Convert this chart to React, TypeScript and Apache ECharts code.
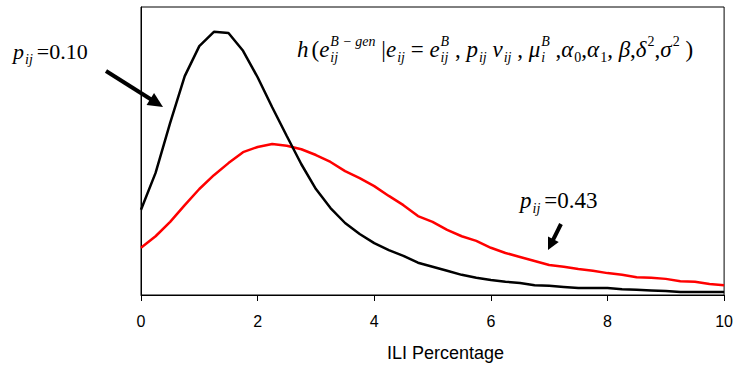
import React, { useEffect, useRef } from "react";
import * as echarts from "echarts";

// ILI percentage grid (x) and the two densities
const iliPct = [
  0, 0.25, 0.5, 0.75, 1, 1.25, 1.5, 1.75, 2, 2.25, 2.5, 2.75, 3, 3.25, 3.5, 3.75,
  4, 4.25, 4.5, 4.75, 5, 5.25, 5.5, 5.75, 6, 6.25, 6.5, 6.75, 7, 7.25, 7.5, 7.75,
  8, 8.25, 8.5, 8.75, 9, 9.25, 9.5, 9.75, 10,
];
const densityP010 = [
  0.148, 0.212, 0.299, 0.380, 0.432, 0.457, 0.455, 0.424, 0.378, 0.326, 0.276, 0.227,
  0.184, 0.151, 0.125, 0.106, 0.090, 0.078, 0.068, 0.056, 0.049, 0.042, 0.035, 0.030,
  0.026, 0.023, 0.021, 0.017, 0.016, 0.014, 0.012, 0.012, 0.012, 0.010, 0.009, 0.008,
  0.007, 0.005, 0.005, 0.005, 0.005,
];
const densityP043 = [
  0.082, 0.102, 0.127, 0.156, 0.184, 0.208, 0.229, 0.248, 0.257, 0.262, 0.259, 0.253,
  0.243, 0.231, 0.215, 0.203, 0.189, 0.172, 0.156, 0.137, 0.127, 0.113, 0.102, 0.094,
  0.082, 0.073, 0.066, 0.059, 0.052, 0.049, 0.045, 0.042, 0.038, 0.035, 0.031, 0.030,
  0.028, 0.024, 0.023, 0.019, 0.017,
];
const xTicks = [0, 2, 4, 6, 8, 10];
const xAxisTitle = "ILI Percentage";

type Tok = { t: string; it?: boolean; sub?: string; subIt?: boolean; sup?: string; supIt?: boolean; gap?: number };

const formulaTokens: Tok[] = [
  { t: "h", it: true },
  { t: "(", gap: 3 },
  { t: "e", it: true, sub: "ij", subIt: true, sup: "B \u2212 gen", supIt: true },
  { t: " |" },
  { t: "e", it: true, sub: "ij", subIt: true },
  { t: " = " },
  { t: "e", it: true, sub: "ij", subIt: true, sup: "B", supIt: true },
  { t: " , " },
  { t: "p", it: true, sub: "ij", subIt: true },
  { t: " " },
  { t: "v", it: true, sub: "ij", subIt: true },
  { t: " , " },
  { t: "\u03bc", it: true, sub: "i", subIt: true, sup: "B", supIt: true },
  { t: " ," },
  { t: "\u03b1", it: true, sub: "0" },
  { t: "," },
  { t: "\u03b1", it: true, sub: "1" },
  { t: ", " },
  { t: "\u03b2", it: true },
  { t: "," },
  { t: "\u03b4", it: true, sup: "2" },
  { t: "," },
  { t: "\u03c3", it: true, sup: "2" },
  { t: " )" },
];
const label010: Tok[] = [{ t: "p", it: true, sub: "ij", subIt: true }, { t: "=0.10", gap: 4 }];
const label043: Tok[] = [{ t: "p", it: true, sub: "ij", subIt: true }, { t: "=0.43", gap: 4 }];

const SERIF = '"Liberation Serif", "Times New Roman", serif';
const SANS = '"Liberation Sans", Arial, sans-serif';

let ctx: CanvasRenderingContext2D | null = null;
function measure(text: string, size: number, italic: boolean) {
  if (!ctx) ctx = document.createElement("canvas").getContext("2d");
  if (!ctx) return text.length * size * 0.5;
  ctx.font = `${italic ? "italic " : ""}${size}px ${SERIF}`;
  return ctx.measureText(text).width;
}

function textEl(text: string, x: number, baseline: number, size: number, italic: boolean) {
  return {
    type: "text",
    x,
    y: baseline - 0.34 * size,
    silent: true,
    style: {
      text,
      fontSize: size,
      fontFamily: SERIF,
      fontStyle: italic ? "italic" : "normal",
      fill: "#000",
      align: "left",
      verticalAlign: "middle",
      textAlign: "left",
      textVerticalAlign: "middle",
    },
  };
}

function layoutMath(tokens: Tok[], x0: number, baseline: number, fs: number, sfs: number) {
  const els: any[] = [];
  let x = x0;
  for (const tok of tokens) {
    x += tok.gap || 0;
    els.push(textEl(tok.t, x, baseline, fs, !!tok.it));
    x += measure(tok.t, fs, !!tok.it);
    if (tok.sub || tok.sup) {
      let w = 0;
      if (tok.sub) {
        els.push(textEl(tok.sub, x + 1, baseline + 0.22 * fs, sfs, !!tok.subIt));
        w = Math.max(w, measure(tok.sub, sfs, !!tok.subIt));
      }
      if (tok.sup) {
        els.push(textEl(tok.sup, x + 1, baseline - 0.45 * fs, sfs, !!tok.supIt));
        w = Math.max(w, measure(tok.sup, sfs, !!tok.supIt));
      }
      x += w + 1;
    }
  }
  return els;
}

function arrow(tail: [number, number], tip: [number, number], width: number, headLen: number, headHalf: number) {
  const dx = tip[0] - tail[0];
  const dy = tip[1] - tail[1];
  const len = Math.hypot(dx, dy);
  const ux = dx / len;
  const uy = dy / len;
  const bx = tip[0] - headLen * ux;
  const by = tip[1] - headLen * uy;
  const px = -uy;
  const py = ux;
  return [
    {
      type: "line",
      silent: true,
      shape: { x1: tail[0], y1: tail[1], x2: bx + ux, y2: by + uy },
      style: { stroke: "#000", lineWidth: width },
    },
    {
      type: "polygon",
      silent: true,
      shape: {
        points: [
          [tip[0], tip[1]],
          [bx + headHalf * px, by + headHalf * py],
          [bx - headHalf * px, by - headHalf * py],
        ],
      },
      style: { fill: "#000" },
    },
  ];
}

export default function App() {
  const ref = useRef<HTMLDivElement>(null);
  useEffect(() => {
    document.body.style.margin = "0";
    if (!ref.current) return;
    const chart = echarts.init(ref.current, undefined, { renderer: "svg" });
    const black = iliPct.map((x, i) => [x, densityP010[i]]);
    const red = iliPct.map((x, i) => [x, densityP043[i]]);
    const graphics = [
      ...layoutMath(formulaTokens, 297, 57, 23, 14),
      ...layoutMath(label010, 13, 59, 22, 14),
      ...layoutMath(label043, 520, 208, 23, 14),
      ...arrow([106, 71], [163, 107], 4, 15, 7),
      ...arrow([561, 224], [548, 250], 4, 12, 6),
    ];
    chart.setOption({
      animation: false,
      backgroundColor: "#fff",
      grid: {
        left: 141,
        right: 8,
        top: 7,
        bottom: 77,
        show: true,
        borderColor: "#000",
        borderWidth: 1,
        backgroundColor: "transparent",
      },
      xAxis: {
        type: "value",
        min: 0,
        max: 10,
        interval: 2,
        name: xAxisTitle,
        nameLocation: "middle",
        nameGap: 49,
        nameTextStyle: { fontFamily: SANS, fontSize: 18, color: "#000", padding: [0, 0, 0, 26] },
        axisLine: { show: true, lineStyle: { color: "#000", width: 1 } },
        axisTick: { show: true, length: 6, inside: false, lineStyle: { color: "#000" } },
        axisLabel: {
          margin: 18,
          fontFamily: SANS,
          fontSize: 16,
          color: "#000",
          formatter: (v: number) => (xTicks.includes(v) ? String(v) : ""),
        },
        splitLine: { show: false },
      },
      yAxis: {
        type: "value",
        min: 0,
        max: 0.5,
        axisLine: { show: true, lineStyle: { color: "#000", width: 1 } },
        axisTick: { show: false },
        axisLabel: { show: false },
        splitLine: { show: false },
      },
      series: [
        {
          name: "p=0.43",
          type: "line",
          data: red,
          showSymbol: false,
          smooth: false,
          lineStyle: { color: "#ff0000", width: 2.5 },
          itemStyle: { color: "#ff0000" },
        },
        {
          name: "p=0.10",
          type: "line",
          data: black,
          showSymbol: false,
          smooth: false,
          lineStyle: { color: "#000", width: 2.5 },
          itemStyle: { color: "#000" },
        },
      ],
      graphic: graphics,
    });
    return () => chart.dispose();
  }, []);
  return <div ref={ref} style={{ width: 736, height: 372 }} />;
}
